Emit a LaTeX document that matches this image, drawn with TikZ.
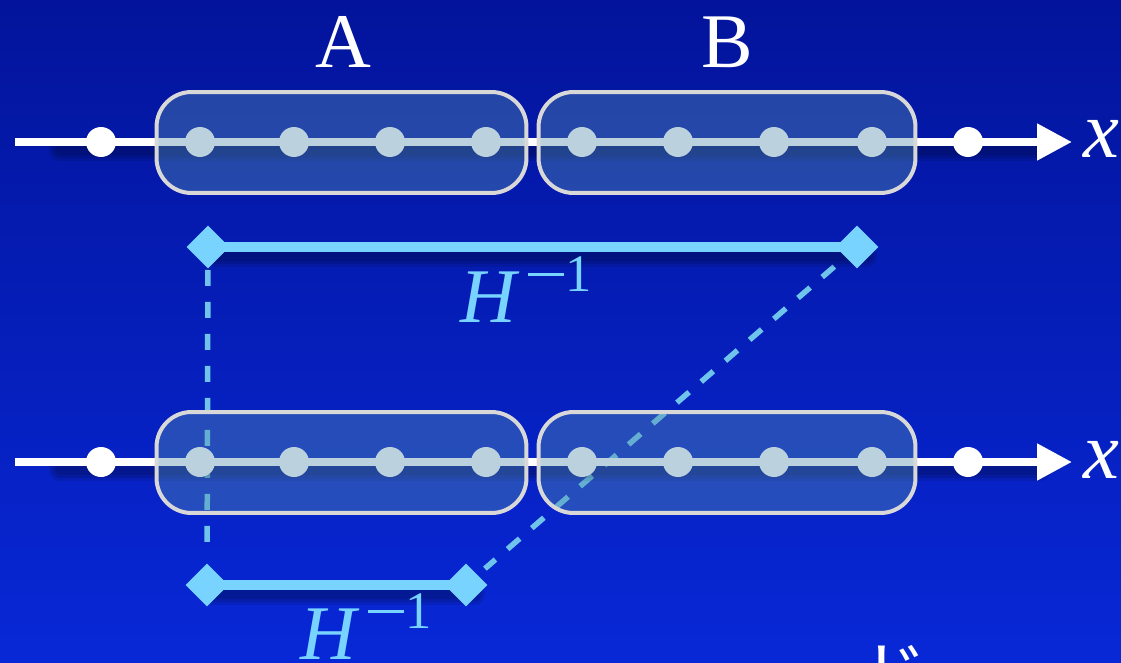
\documentclass[tikz,border=0pt]{standalone}
\usepackage{fontspec}
\setmainfont{Liberation Serif}
\newfontfamily\jpfont{Noto Sans CJK JP}
\usetikzlibrary{arrows.meta,shapes.geometric,positioning}
\definecolor{bgTop}{RGB}{3,20,155}
\definecolor{bgBot}{RGB}{8,40,215}
\definecolor{boxFill}{RGB}{85,142,172}
\definecolor{boxEdge}{RGB}{216,216,216}
\definecolor{barBlue}{RGB}{120,212,255}
\definecolor{dashBlue}{RGB}{110,196,234}
\newcommand{\hInv}{\textit{H}\hspace{5pt}\raisebox{26pt}{\rule{20pt}{1.8pt}}\hspace{1pt}\raisebox{17.5pt}{\fontsize{30}{30}\selectfont 1}}

\begin{document}
\begin{tikzpicture}[x=0.02cm,y=-0.02cm,
    siteDot/.style={circle,fill=white,inner sep=0pt,minimum size=0.6cm},
    blockBox/.style={rectangle,rounded corners=0.7cm,draw=boxEdge,line width=0.08cm,fill=boxFill,fill opacity=0.4,minimum width=7.4cm,minimum height=2.02cm},
    axisLine/.style={white,line width=0.16cm,-{Triangle[length=0.7cm,width=0.7cm]}},
    barLine/.style={barBlue,line width=0.2cm},
    barEnd/.style={diamond,fill=barBlue,inner sep=0pt,minimum size=0.86cm},
    linkLine/.style={dashBlue,line width=0.11cm,dash pattern=on 0.32cm off 0.32cm},
    softShadow/.style={black,opacity=0.1,line cap=round},
    bigLabel/.style={white,inner sep=0pt,font=\fontsize{44}{50}\selectfont},
    axisLabel/.style={white,inner sep=0pt,font=\fontsize{46}{50}\selectfont\itshape},
    hLabel/.style={barBlue,inner sep=0pt,font=\fontsize{44}{50}\selectfont},
    jpText/.style={white,inner sep=0pt,font=\fontsize{40}{40}\selectfont\jpfont},
]
% === background ===
\useasboundingbox (0,0) rectangle (1121,662);
\shade[top color=bgTop,bottom color=bgBot] (0,0) rectangle (1121,662);
% === bar ends ===
\coordinate (endTL) at (208,247);
\coordinate (endTR) at (857,247);
\coordinate (endBL) at (207,585);
\coordinate (endBR) at (466,585);
\draw[linkLine,shorten <=0.46cm,shorten >=0.6cm] (endTL) -- (endBL);
\draw[linkLine,shorten <=0.6cm,shorten >=0.5cm] (endTR) -- (endBR);
% shadows
\foreach \w in {0.2,0.32,0.44} {
    \draw[softShadow,line width=\w cm] (60,150) -- (1040,150);
    \draw[softShadow,line width=\w cm] (60,470) -- (1040,470);
    \draw[softShadow,line width=\w cm] (214,256) -- (866,256);
    \draw[softShadow,line width=\w cm] (214,594) -- (474,594);
}
% === top chain ===
\coordinate (startT) at (15,142);
\coordinate (tipT) at (1072,142);
\draw[axisLine] (startT) -- (tipT);
\node[axisLabel,anchor=base] (xT) at (1101,158) {x};
\node[siteDot] (t0) at (101,142) {};
\node[siteDot] (t9) at (968,142) {};
\foreach \px [count=\i] in {200,294,390,486,582,678,774,872}
    \node[siteDot] (t\i) at (\px,142) {};
\node[blockBox] (boxTA) at (341.5,142.5) {};
\node[blockBox,minimum width=7.54cm] (boxTB) at (727,142.5) {};
\node[bigLabel,anchor=base] (labA) at (343,68) {A};
\node[bigLabel,anchor=base] (labB) at (727,68) {B};
% === bottom chain ===
\coordinate (startB) at (15,462);
\coordinate (tipB) at (1072,462);
\draw[axisLine] (startB) -- (tipB);
\node[axisLabel,anchor=base] (xB) at (1101,478) {x};
\node[siteDot] (b0) at (101,462) {};
\node[siteDot] (b9) at (968,462) {};
\foreach \px [count=\i] in {200,294,390,486,582,678,774,872}
    \node[siteDot] (b\i) at (\px,462) {};
\node[blockBox] (boxBA) at (341.5,462.5) {};
\node[blockBox,minimum width=7.54cm] (boxBB) at (727,462.5) {};
% === H^{-1} bars ===
\node[barEnd] (dTL) at (endTL) {};
\node[barEnd] (dTR) at (endTR) {};
\draw[barLine] (dTL.center) -- (dTR.center);
\node[hLabel,anchor=base west] (hTop) at (460,322) {\hInv};
\node[barEnd] (dBL) at (endBL) {};
\node[barEnd] (dBR) at (endBR) {};
\draw[barLine] (dBL.center) -- (dBR.center);
\node[hLabel,anchor=base west] (hBot) at (300,659) {\hInv};
% cut-off caption
\node[jpText,anchor=north] (capFrag) at (893,645) {ド};
\end{tikzpicture}
\end{document}
